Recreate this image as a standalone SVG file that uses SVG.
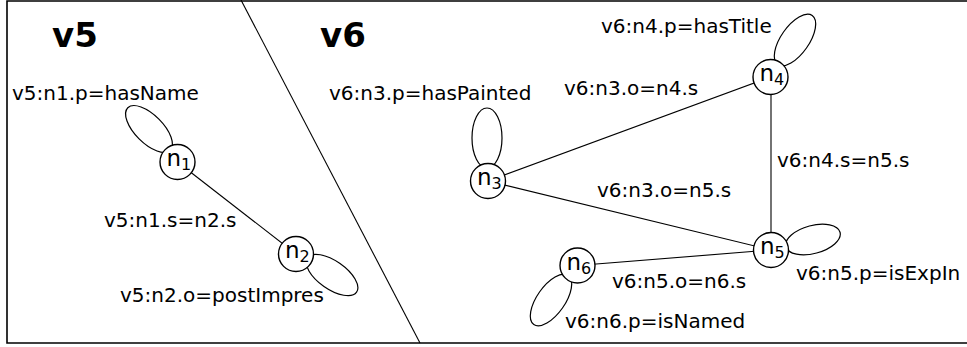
<svg xmlns="http://www.w3.org/2000/svg" width="967" height="347" viewBox="0 0 967 347">
<style>
.frame{fill:none;stroke:#000;stroke-width:1.6}
.edge{stroke:#000;stroke-width:1.1;fill:none}
.loop{stroke:#000;stroke-width:1.2;fill:none}
.node circle{fill:#fff;stroke:#000;stroke-width:1.4}
.nl{font-family:"DejaVu Sans",sans-serif;font-size:23px;fill:#000}
.sub{font-size:16px}
.lbl{font-family:"DejaVu Sans",sans-serif;font-size:20px;fill:#000}
.title{font-family:"DejaVu Sans",sans-serif;font-size:34px;font-weight:bold;fill:#000}
</style>
<rect width="967" height="347" fill="#fff"/>
<polyline class="frame" points="967,1 7,1 7,343 967,343"/>
<line class="edge" x1="241" y1="0" x2="420" y2="343"/>
<text class="title" x="52" y="47">v5</text>
<text class="title" x="320" y="47">v6</text>
<g id="connectors">
<line class="edge" x1="177.5" y1="162" x2="296" y2="254"/>
<line class="edge" x1="488" y1="181" x2="770.5" y2="77"/>
<line class="edge" x1="488" y1="181" x2="771" y2="250"/>
<line class="edge" x1="771" y1="77" x2="771" y2="250"/>
<line class="edge" x1="771" y1="250" x2="577.5" y2="265.5"/>
<ellipse class="loop" cx="149" cy="129" rx="30" ry="14" transform="rotate(45 149 129)"/>
<ellipse class="loop" cx="332" cy="275" rx="30" ry="14" transform="rotate(35 332 275)"/>
<ellipse class="loop" cx="487" cy="138" rx="15" ry="30"/>
<ellipse class="loop" cx="795" cy="40" rx="30" ry="14" transform="rotate(-55 795 40)"/>
<ellipse class="loop" cx="813" cy="239.5" rx="28" ry="14" transform="rotate(-15 813 239.5)"/>
<ellipse class="loop" cx="551" cy="300" rx="30" ry="14" transform="rotate(-55 551 300)"/>
</g>
<g id="labels">
<text class="lbl" x="12" y="100">v5:n1.p=hasName</text>
<text class="lbl" x="104" y="227">v5:n1.s=n2.s</text>
<text class="lbl" x="120" y="302">v5:n2.o=postImpres</text>
<text class="lbl" x="329" y="100">v6:n3.p=hasPainted</text>
<text class="lbl" x="601" y="33">v6:n4.p=hasTitle</text>
<text class="lbl" x="564" y="95">v6:n3.o=n4.s</text>
<text class="lbl" x="777" y="167">v6:n4.s=n5.s</text>
<text class="lbl" x="597" y="197">v6:n3.o=n5.s</text>
<text class="lbl" x="796" y="280">v6:n5.p=isExpIn</text>
<text class="lbl" x="612" y="288">v6:n5.o=n6.s</text>
<text class="lbl" x="565" y="328">v6:n6.p=isNamed</text>
</g>
<g id="n1" class="node"><circle cx="177.5" cy="162" r="17.5"/><text class="nl" x="166.5" y="166">n<tspan class="sub" dy="4">1</tspan></text></g>
<g id="n2" class="node"><circle cx="296" cy="254" r="17.5"/><text class="nl" x="285" y="258">n<tspan class="sub" dy="4">2</tspan></text></g>
<g id="n3" class="node"><circle cx="488" cy="181" r="17.5"/><text class="nl" x="477" y="185">n<tspan class="sub" dy="4">3</tspan></text></g>
<g id="n4" class="node"><circle cx="770.5" cy="77" r="17.5"/><text class="nl" x="759.5" y="81">n<tspan class="sub" dy="4">4</tspan></text></g>
<g id="n5" class="node"><circle cx="771" cy="250" r="17.5"/><text class="nl" x="760" y="254">n<tspan class="sub" dy="4">5</tspan></text></g>
<g id="n6" class="node"><circle cx="577.5" cy="265.5" r="17.5"/><text class="nl" x="566.5" y="269.5">n<tspan class="sub" dy="4">6</tspan></text></g>
</svg>
